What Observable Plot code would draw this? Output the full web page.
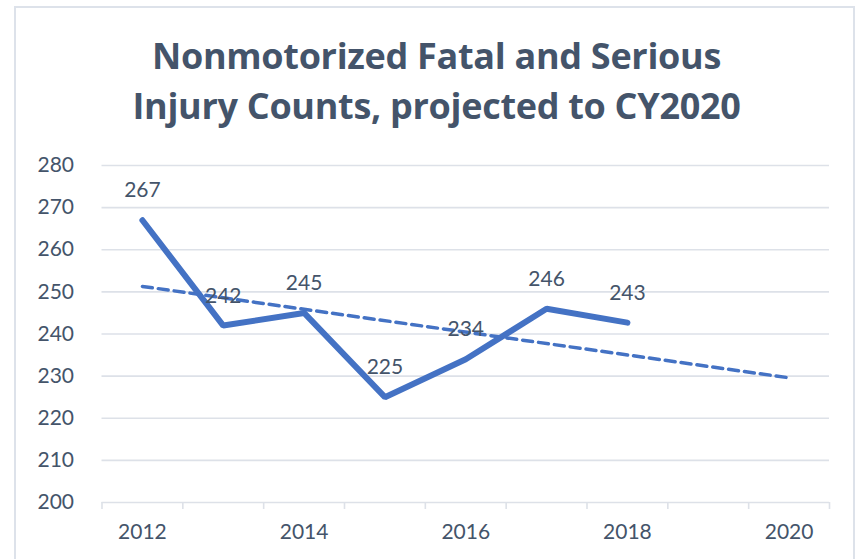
<!DOCTYPE html>
<html>
<head>
<meta charset="utf-8">
<script src="https://cdn.jsdelivr.net/npm/d3@7"></script>
<script src="https://cdn.jsdelivr.net/npm/@observablehq/plot@0.6"></script>
<style>
  html, body { margin: 0; padding: 0; background: #fff; overflow: hidden; }
  #wrap { position: relative; width: 859px; height: 559px; font-family: Lato, "Open Sans", sans-serif; }
  #frame { position: absolute; left: 14px; top: 6px; width: 841px; height: 600px; border: 2px solid #DDE2EA; box-sizing: border-box; pointer-events: none; }
  #title { position: relative; height: 140px; box-sizing: border-box; padding-top: 31px; padding-left: 14px; text-align: center; font-family: "Open Sans", Lato, sans-serif; font-weight: bold; font-size: 36px; line-height: 50px; color: #44546A; letter-spacing: -0.3px; }
  #chart { position: relative; }
</style>
</head>
<body>
<div id="wrap">
  <div id="frame"></div>
  <div id="title">Nonmotorized Fatal and Serious<br>Injury Counts, projected to CY2020</div>
  <div id="chart"></div>
</div>
<script>
// ---- data ----
const years = [2012, 2013, 2014, 2015, 2016, 2017, 2018];
const counts = [267, 242, 245, 225, 234, 246, 242.7];
const countLabels = ["267", "242", "245", "225", "234", "246", "243"];
const trendYears = [2012, 2020];
const trendValues = [251.3, 229.6];
const categoryYears = [2012, 2013, 2014, 2015, 2016, 2017, 2018, 2019, 2020];
const xTickLabels = [2012, 2014, 2016, 2018, 2020];
const yTicks = [200, 210, 220, 230, 240, 250, 260, 270, 280];

const series = years.map((y, i) => ({year: y, value: counts[i], label: countLabels[i]}));
const trend = trendYears.map((y, i) => ({year: y, value: trendValues[i]}));
const boundaries = [categoryYears[0] - 0.5, ...categoryYears.map(y => y + 0.5)];

const textColor = "#44546A";
const gridColor = "#DDE1E8";
const blue = "#4472C4";

const hasAxis = typeof Plot.axisX === "function";

const marks = [
  Plot.ruleY(yTicks, {stroke: gridColor, strokeWidth: 1.6}),
];
if (hasAxis) {
  marks.push(
    Plot.axisY(yTicks, {tickSize: 0, tickPadding: 28, fontSize: 21, fill: textColor, label: null}),
    Plot.axisX(boundaries, {tickSize: 7, stroke: gridColor, strokeWidth: 1.6, tickFormat: () => "", label: null}),
    Plot.axisX(xTickLabels, {tickSize: 0, tickPadding: 22, fontSize: 21, fill: textColor, tickFormat: d => String(d), label: null})
  );
}
marks.push(
  Plot.line(trend, {x: "year", y: "value", stroke: blue, strokeWidth: 3.5, strokeDasharray: "10,6"}),
  Plot.line(series, {x: "year", y: "value", stroke: blue, strokeWidth: 6, strokeLinejoin: "miter", strokeLinecap: "round"}),
  Plot.text(series, {x: "year", y: "value", text: "label", dy: -23, lineAnchor: "bottom", fontSize: 21, fill: textColor})
);

const chart = Plot.plot({
  width: 859,
  height: 419,
  marginLeft: 101.5,
  marginRight: 30,
  marginTop: 25,
  marginBottom: 57,
  style: {fontFamily: "Lato, 'Open Sans', sans-serif", fontSize: "21px", color: textColor, background: "transparent"},
  x: {type: "linear", domain: [2011.5, 2020.5], axis: hasAxis ? null : "bottom", ticks: xTickLabels, tickFormat: d => String(d), tickSize: 0, label: null},
  y: {domain: [200, 280], axis: hasAxis ? null : "left", ticks: yTicks, tickSize: 0, tickPadding: 28, label: null},
  marks
});
document.getElementById("chart").appendChild(chart);
</script>
</body>
</html>
